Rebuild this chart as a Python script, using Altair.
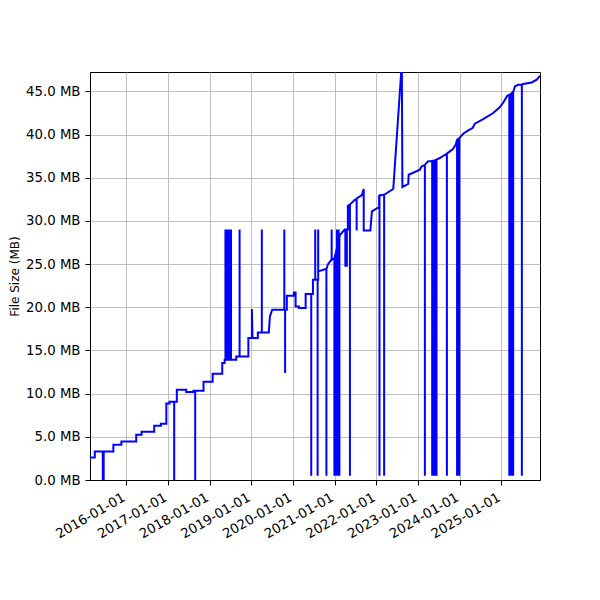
import altair as alt
import pandas as pd

# ---- data (date, file size in MB), in drawing order ----
dates_2015_2016 = [
    "2015-02-18", "2015-04-01", "2015-04-01",
    "2015-06-10", "2015-06-10", "2015-06-10",
    "2015-06-18", "2015-06-18", "2015-06-18",
    "2015-09-11", "2015-09-11", "2015-11-20", "2015-11-20",
    "2016-03-29", "2016-03-29", "2016-05-15", "2016-05-15",
    "2016-09-03", "2016-09-03", "2016-10-31", "2016-10-31",
    "2016-12-18", "2016-12-18",
]
sizes_2015_2016 = [
    2.62, 2.62, 3.31,
    3.31, 0.0, 3.31,
    3.31, 0.0, 3.31,
    3.31, 4.09, 4.09, 4.47,
    4.47, 5.25, 5.25, 5.59,
    5.59, 6.29, 6.29, 6.52,
    6.52, 8.87,
]

dates_2017 = [
    "2017-01-15", "2017-01-15",
    "2017-02-25", "2017-02-25", "2017-02-25",
    "2017-03-20", "2017-03-20", "2017-06-10", "2017-06-10",
    "2017-08-13", "2017-08-13",
    "2017-08-28", "2017-08-28", "2017-08-28",
    "2017-11-09", "2017-11-09",
]
sizes_2017 = [
    8.87, 9.07,
    9.07, 0.0, 9.07,
    9.07, 10.46, 10.46, 10.19,
    10.19, 10.34,
    10.34, 0.0, 10.34,
    10.34, 11.38,
]

dates_2018 = [
    "2018-01-28", "2018-01-28", "2018-04-22", "2018-04-22",
    "2018-05-13", "2018-05-13",
    "2018-05-20", "2018-05-20", "2018-05-20",
    "2018-05-27", "2018-05-27", "2018-05-27",
    "2018-06-03", "2018-06-03", "2018-06-03",
    "2018-06-10", "2018-06-10", "2018-06-10",
    "2018-06-17", "2018-06-17", "2018-06-17",
    "2018-06-24", "2018-06-24", "2018-06-24",
    "2018-07-01", "2018-07-01", "2018-07-01",
    "2018-07-08", "2018-07-08", "2018-07-08",
    "2018-08-23", "2018-08-23",
    "2018-09-21", "2018-09-21", "2018-09-21",
    "2018-12-07", "2018-12-07",
]
sizes_2018 = [
    11.38, 12.30, 12.30, 13.55,
    13.55, 13.93,
    13.93, 29.0, 13.93,
    13.93, 29.0, 13.93,
    13.93, 29.0, 13.93,
    13.93, 29.0, 13.93,
    13.93, 29.0, 13.93,
    13.93, 29.0, 13.93,
    13.93, 29.0, 13.93,
    13.93, 29.0, 13.93,
    13.93, 14.31,
    14.31, 29.0, 14.31,
    14.31, 16.44,
]

dates_2019 = [
    "2019-01-07", "2019-01-07", "2019-01-12",
    "2019-02-28", "2019-02-28",
    "2019-04-04", "2019-04-04", "2019-04-04",
    "2019-06-04", "2019-06-14", "2019-07-04",
    "2019-10-18", "2019-10-18", "2019-10-18",
    "2019-10-25", "2019-10-25", "2019-10-25",
    "2019-11-09", "2019-11-09",
]
sizes_2019 = [
    16.44, 19.80, 16.44,
    16.44, 17.09,
    17.09, 29.0, 17.09,
    17.09, 18.94, 19.72,
    19.72, 29.0, 19.72,
    19.72, 12.39, 19.72,
    19.72, 21.34,
]

dates_2020 = [
    "2020-01-10", "2020-01-10", "2020-01-25", "2020-01-25",
    "2020-02-23", "2020-02-23", "2020-04-22", "2020-04-22",
    "2020-06-10", "2020-06-10", "2020-06-10",
    "2020-06-25", "2020-06-25",
    "2020-07-15", "2020-07-15", "2020-07-15",
    "2020-08-05", "2020-08-05", "2020-08-05",
    "2020-08-10", "2020-08-10", "2020-08-10",
    "2020-10-15",
    "2020-10-21", "2020-10-21", "2020-10-21",
    "2020-11-04", "2020-12-04",
    "2020-12-06", "2020-12-06", "2020-12-06",
    "2020-12-30", "2020-12-30", "2020-12-30",
]
sizes_2020 = [
    21.34, 21.70, 21.70, 20.10,
    20.10, 19.92, 19.92, 21.54,
    21.54, 0.5, 21.54,
    21.54, 23.19,
    23.19, 29.0, 23.19,
    23.19, 0.5, 23.19,
    23.19, 29.0, 24.15,
    24.43,
    24.43, 0.5, 24.43,
    25.0, 25.5,
    25.5, 29.0, 25.5,
    25.7, 0.5, 25.7,
]

dates_2021 = [
    "2021-01-08", "2021-01-08", "2021-01-08",
    "2021-01-15", "2021-01-15", "2021-01-15",
    "2021-01-22", "2021-01-22", "2021-01-22", "2021-01-22",
    "2021-01-29", "2021-01-29", "2021-01-29",
    "2021-02-05", "2021-02-05", "2021-02-05", "2021-02-05",
    "2021-02-12", "2021-02-12", "2021-02-12",
    "2021-02-18", "2021-03-30",
    "2021-04-05", "2021-04-05", "2021-04-18", "2021-04-18",
    "2021-04-27", "2021-04-27",
    "2021-05-15", "2021-05-15", "2021-05-15",
    "2021-06-27",
    "2021-07-13", "2021-07-13", "2021-07-13",
    "2021-08-28", "2021-09-13", "2021-09-13",
    "2021-11-10", "2021-11-24",
]
sizes_2021 = [
    26.1, 0.5, 26.1,
    26.5, 0.5, 26.5,
    26.9, 29.0, 0.5, 26.9,
    27.3, 0.5, 27.3,
    27.7, 29.0, 0.5, 27.7,
    28.1, 0.5, 28.1,
    28.4, 29.0,
    29.0, 24.8, 24.8, 29.0,
    29.0, 31.76,
    31.9, 0.5, 31.9,
    32.46,
    32.46, 28.9, 32.6,
    33.0, 33.7, 28.9,
    28.9, 31.1,
]

dates_2022 = [
    "2022-01-12", "2022-01-26", "2022-01-26",
    "2022-01-29", "2022-01-29", "2022-01-29",
    "2022-03-11", "2022-03-11", "2022-03-11",
    "2022-05-30", "2022-08-13", "2022-08-18",
    "2022-10-08", "2022-10-12",
]
sizes_2022 = [
    31.5, 31.5, 32.92,
    32.95, 0.5, 32.95,
    33.04, 0.5, 33.04,
    33.7, 48.3, 33.93,
    34.3, 35.35,
]

dates_2023 = [
    "2023-01-18", "2023-02-02",
    "2023-03-03", "2023-03-03", "2023-03-03",
    "2023-03-29",
    "2023-05-06", "2023-05-06", "2023-05-06",
    "2023-05-14", "2023-05-14", "2023-05-14",
    "2023-05-22", "2023-05-22", "2023-05-22",
    "2023-05-30", "2023-05-30", "2023-05-30",
    "2023-06-07", "2023-06-07", "2023-06-07",
    "2023-06-13", "2023-06-13", "2023-06-13",
    "2023-07-12", "2023-09-09",
    "2023-09-12", "2023-09-12", "2023-09-12",
    "2023-11-04", "2023-11-28",
    "2023-12-10", "2023-12-10", "2023-12-10",
    "2023-12-20", "2023-12-20", "2023-12-20",
    "2023-12-30", "2023-12-30", "2023-12-30",
]
sizes_2023 = [
    35.93, 36.31,
    36.5, 0.5, 36.5,
    36.9,
    36.95, 0.5, 36.95,
    36.97, 0.5, 36.97,
    37.0, 0.5, 37.0,
    37.03, 0.5, 37.03,
    37.06, 0.5, 37.06,
    37.1, 0.5, 37.1,
    37.29, 37.78,
    37.8, 0.5, 37.8,
    38.33, 38.83,
    39.4, 0.5, 39.4,
    39.5, 0.5, 39.5,
    39.6, 0.5, 39.6,
]

dates_2024_2025 = [
    "2024-02-02", "2024-03-17", "2024-04-24", "2024-05-14",
    "2024-07-26", "2024-10-22", "2024-12-20",
    "2025-01-18", "2025-02-22",
    "2025-03-12", "2025-03-12", "2025-03-12",
    "2025-03-19", "2025-03-19", "2025-03-19",
    "2025-03-26", "2025-03-26", "2025-03-26",
    "2025-04-02", "2025-04-02", "2025-04-02",
    "2025-04-09", "2025-04-09", "2025-04-09",
    "2025-04-15", "2025-04-15", "2025-04-15",
    "2025-04-30", "2025-05-29",
    "2025-06-30", "2025-06-30", "2025-06-30",
    "2025-07-12", "2025-09-24", "2025-11-07", "2025-12-06",
]
sizes_2024_2025 = [
    40.1, 40.48, 40.76, 41.26,
    41.8, 42.5, 43.19,
    43.72, 44.5,
    44.6, 0.5, 44.6,
    44.65, 0.5, 44.65,
    44.7, 0.5, 44.7,
    44.8, 0.5, 44.8,
    44.85, 0.5, 44.85,
    44.9, 0.5, 44.9,
    45.58, 45.77,
    45.8, 0.5, 45.8,
    45.85, 46.04, 46.36, 46.81,
]

date_parts = [dates_2015_2016, dates_2017, dates_2018, dates_2019, dates_2020,
              dates_2021, dates_2022, dates_2023, dates_2024_2025]
size_parts = [sizes_2015_2016, sizes_2017, sizes_2018, sizes_2019, sizes_2020,
              sizes_2021, sizes_2022, sizes_2023, sizes_2024_2025]

all_dates, all_sizes = [], []
for d, s in zip(date_parts, size_parts):
    assert len(d) == len(s)
    all_dates += d
    all_sizes += s

df = pd.DataFrame({"date": all_dates, "size_mb": all_sizes})
df["i"] = range(len(df))

year_ticks = [2016, 2017, 2018, 2019, 2020, 2021, 2022, 2023, 2024, 2025]
mb_ticks = [0, 5, 10, 15, 20, 25, 30, 35, 40, 45]

FONT = "DejaVu Sans"
LABEL_SIZE = 13.3

chart = alt.Chart(df).mark_line(
    color="#0000ff", strokeWidth=2, clip=True, interpolate="linear"
).encode(
    x=alt.X(
        "date:T",
        title="",
        scale=alt.Scale(
            type="utc",
            domain=[alt.DateTime(year=2015, month=2, date=18, utc=True),
                    alt.DateTime(year=2025, month=12, date=6, utc=True)],
        ),
        axis=alt.Axis(
            values=[alt.DateTime(year=y, month=1, date=1, utc=True) for y in year_ticks],
            labelExpr="utcFormat(datum.value, '%Y-%m-%d')",
            labelAngle=-30,
            labelAlign="right",
            labelBaseline="top",
            labelPadding=5,
            labelOffset=-6,
            labelOverlap=False,
            labelFlush=False,
            labelFont=FONT,
            labelFontSize=LABEL_SIZE,
            tickSize=5,
            grid=True,
        ),
    ),
    y=alt.Y(
        "size_mb:Q",
        title="File Size (MB)",
        scale=alt.Scale(domain=[0, 47.25], nice=False, zero=False),
        axis=alt.Axis(
            values=mb_ticks,
            labelExpr="format(datum.value, '.1f') + ' MB'",
            tickSize=5,
            labelPadding=5,
            labelOverlap=False,
            labelFlush=False,
            labelFont=FONT,
            labelFontSize=LABEL_SIZE,
            titleFont=FONT,
            titleFontSize=12,
            titleX=-76,
            titleY=204,
            titleAngle=-90,
            titleAlign="center",
            titleBaseline="middle",
            grid=True,
        ),
    ),
    order=alt.Order("i:Q"),
).properties(
    width=450,
    height=408,
    autosize=alt.AutoSizeParams(type="none"),
    padding={"left": 82, "top": 64, "right": 50, "bottom": 112},
).configure_axis(
    domainColor="black",
    domainWidth=1,
    tickColor="black",
    tickWidth=1,
    gridColor="#b0b0b0",
    gridWidth=0.8,
    labelColor="black",
    titleFontWeight="normal",
    titleColor="black",
).configure_view(
    stroke="black",
    strokeWidth=1,
)

chart.save("out.html", embed_options={"renderer": "svg", "actions": False})
